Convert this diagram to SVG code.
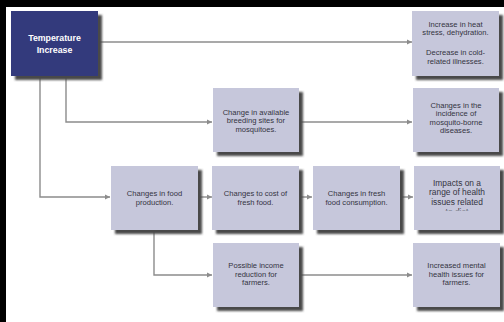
<svg xmlns="http://www.w3.org/2000/svg" width="504" height="322" viewBox="0 0 504 322">
  <defs>
    <style>
      .box { fill: #c6c7db; }
      .dark { fill: #333a7c; }
      .shadow { fill: #4a4a4a; filter: url(#blur); }
      .t { font-family: "Liberation Sans", Arial, sans-serif; font-size: 7.6px; fill: #34343f; text-anchor: middle; }
      .tb { font-family: "Liberation Sans", Arial, sans-serif; font-size: 8.4px; fill: #34343f; text-anchor: middle; }
      .tw { font-family: "Liberation Sans", Arial, sans-serif; font-size: 8.8px; font-weight: bold; fill: #ffffff; text-anchor: middle; }
      .ln { fill: none; stroke: #8c8c8c; stroke-width: 1.4; }
    </style>
    <filter id="blur" x="-10%" y="-10%" width="130%" height="130%">
      <feGaussianBlur stdDeviation="1"/>
    </filter>
    <marker id="ah" markerWidth="6" markerHeight="6" refX="5" refY="3" orient="auto" markerUnits="userSpaceOnUse">
      <path d="M0,0.5 L5,3 L0,5.5 Z" fill="#8c8c8c"/>
    </marker>
    <clipPath id="clipImpacts">
      <rect x="414" y="166" width="86" height="44.5"/>
    </clipPath>
  </defs>
  <rect x="0" y="0" width="504" height="322" fill="#ffffff"/>
  <rect x="0" y="0" width="504" height="7" fill="#000000"/>
  <rect x="0" y="0" width="6" height="322" fill="#000000"/>

  <g id="connectors">
    <path class="ln" d="M98,42 H412" marker-end="url(#ah)"/>
    <path class="ln" d="M66,76 V122 H212" marker-end="url(#ah)"/>
    <path class="ln" d="M40,76 V197 H110" marker-end="url(#ah)"/>
    <path class="ln" d="M299,122 H412" marker-end="url(#ah)"/>
    <path class="ln" d="M198,197 H212" marker-end="url(#ah)"/>
    <path class="ln" d="M299,197 H312" marker-end="url(#ah)"/>
    <path class="ln" d="M400,197 H413" marker-end="url(#ah)"/>
    <path class="ln" d="M154,230 V275 H212" marker-end="url(#ah)"/>
    <path class="ln" d="M299,275 H412" marker-end="url(#ah)"/>
  </g>

  <g id="n-temp">
    <rect class="shadow" x="15" y="15" width="87" height="65"/>
    <rect class="dark" x="11" y="11" width="87" height="65"/>
    <text class="tw" x="54.5" y="41">Temperature</text>
    <text class="tw" x="54.5" y="53">Increase</text>
  </g>

  <g id="n-heat">
    <rect class="shadow" x="416" y="15" width="87" height="65"/>
    <rect class="box" x="412" y="11" width="87" height="65"/>
    <text class="t" x="455.5" y="26.5">Increase in heat</text>
    <text class="t" x="455.5" y="34.5">stress, dehydration.</text>
    <text class="t" x="455.5" y="55">Decrease in cold-</text>
    <text class="t" x="455.5" y="63.5">related illnesses.</text>
  </g>

  <g id="n-breeding">
    <rect class="shadow" x="217" y="92" width="86" height="64"/>
    <rect class="box" x="213" y="88" width="86" height="64"/>
    <text class="t" x="256" y="114.5">Change in available</text>
    <text class="t" x="256" y="123">breeding sites for</text>
    <text class="t" x="256" y="131.5">mosquitoes.</text>
  </g>

  <g id="n-mosquito">
    <rect class="shadow" x="417" y="92" width="86" height="64"/>
    <rect class="box" x="413" y="88" width="86" height="64"/>
    <text class="t" x="456" y="107.5">Changes in the</text>
    <text class="t" x="456" y="116">incidence of</text>
    <text class="t" x="456" y="124.5">mosquito-borne</text>
    <text class="t" x="456" y="133">diseases.</text>
  </g>

  <g id="n-foodprod">
    <rect class="shadow" x="115" y="170" width="87" height="64"/>
    <rect class="box" x="111" y="166" width="87" height="64"/>
    <text class="t" x="154.5" y="195.5">Changes in food</text>
    <text class="t" x="154.5" y="204.5">production.</text>
  </g>

  <g id="n-cost">
    <rect class="shadow" x="216" y="170" width="87" height="64"/>
    <rect class="box" x="212" y="166" width="87" height="64"/>
    <text class="t" x="255.5" y="195.5">Changes to cost of</text>
    <text class="t" x="255.5" y="204.5">fresh food.</text>
  </g>

  <g id="n-consumption">
    <rect class="shadow" x="317" y="170" width="87" height="64"/>
    <rect class="box" x="313" y="166" width="87" height="64"/>
    <text class="t" x="356.5" y="195.5">Changes in fresh</text>
    <text class="t" x="356.5" y="204.5">food consumption.</text>
  </g>

  <g id="n-diet">
    <rect class="shadow" x="418" y="170" width="86" height="64"/>
    <rect class="box" x="414" y="166" width="86" height="64"/>
    <g clip-path="url(#clipImpacts)">
      <text class="tb" x="457" y="185.5">Impacts on a</text>
      <text class="tb" x="457" y="195">range of health</text>
      <text class="tb" x="457" y="205">issues related</text>
      <text class="tb" x="457" y="214.5">to diet</text>
    </g>
  </g>

  <g id="n-income">
    <rect class="shadow" x="217" y="247" width="86" height="64"/>
    <rect class="box" x="213" y="243" width="86" height="64"/>
    <text class="t" x="256" y="267.5">Possible income</text>
    <text class="t" x="256" y="276.5">reduction for</text>
    <text class="t" x="256" y="285">farmers.</text>
  </g>

  <g id="n-mental">
    <rect class="shadow" x="417" y="247" width="87" height="64"/>
    <rect class="box" x="413" y="243" width="87" height="64"/>
    <text class="t" x="456.5" y="267.5">Increased mental</text>
    <text class="t" x="456.5" y="276.5">health issues for</text>
    <text class="t" x="456.5" y="285">farmers.</text>
  </g>
</svg>
